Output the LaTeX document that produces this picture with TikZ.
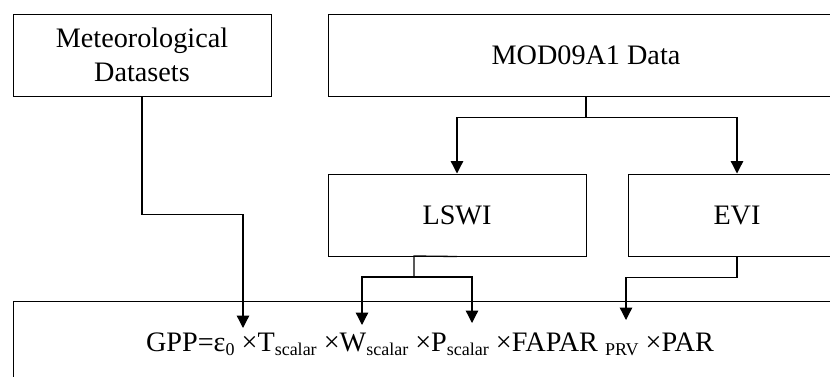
\documentclass[tikz,border=0pt]{standalone}
\usepackage{fontspec}
\setmainfont{Liberation Serif}
\usetikzlibrary{arrows.meta}
\newcommand\bigfont{\fontsize{28.2}{34}\selectfont}
\newcommand\subtxt[1]{\raisebox{-4pt}{\fontsize{18}{18}\selectfont #1}}
\begin{document}
\begin{tikzpicture}[x=1pt,y=-1pt,
  box/.style={draw, line width=1pt, inner sep=0pt, font=\bigfont, align=center},
  conn/.style={line width=1.3pt, -{Triangle[width=12.5pt,length=12.5pt]}},
  plain/.style={line width=1.3pt}]
\useasboundingbox (0,0) rectangle (830,376);
\clip (0,0) rectangle (830,376);
\node[box, minimum width=258pt, minimum height=82pt] (met) at (142,55) {Meteorological\\Datasets};
\node[box, minimum width=516pt, minimum height=82pt] (mod) at (586,55) {MOD09A1 Data};
\node[box, minimum width=258pt, minimum height=82pt] (lswi) at (457,215) {LSWI};
\node[box, minimum width=218pt, minimum height=82pt] (evi) at (737,215) {EVI};
\node[box, minimum width=834pt, minimum height=90pt] (gpp) at (430,346) {};
\node[font=\bigfont, inner sep=0pt, anchor=base] (formula) at (430,351)
  {GPP=ε\subtxt{0} ×T\subtxt{scalar} ×W\subtxt{scalar} ×P\subtxt{scalar} ×FAPAR \subtxt{PRV} ×PAR};
\coordinate (tT) at (243,328);
\coordinate (tW) at (362,325);
\coordinate (tP) at (472,323);
\coordinate (tF) at (626,320);
\coordinate (lsa) at (414,256);
\coordinate (lsj) at (414,277);
\draw[conn] (met.south) -- ++(0,118) -| (tT);
\draw[plain] (mod.south) -- ++(0,21) coordinate (mj);
\draw[conn] (mj) -| (lswi.north);
\draw[conn] (mj) -| (evi.north);
\draw[plain] (lswi.south) -- (lsa) -- (lsj);
\draw[conn] (lsj) -| (tW);
\draw[conn] (lsj) -| (tP);
\draw[conn] (evi.south) -- ++(0,21) -| (tF);
\end{tikzpicture}
\end{document}
